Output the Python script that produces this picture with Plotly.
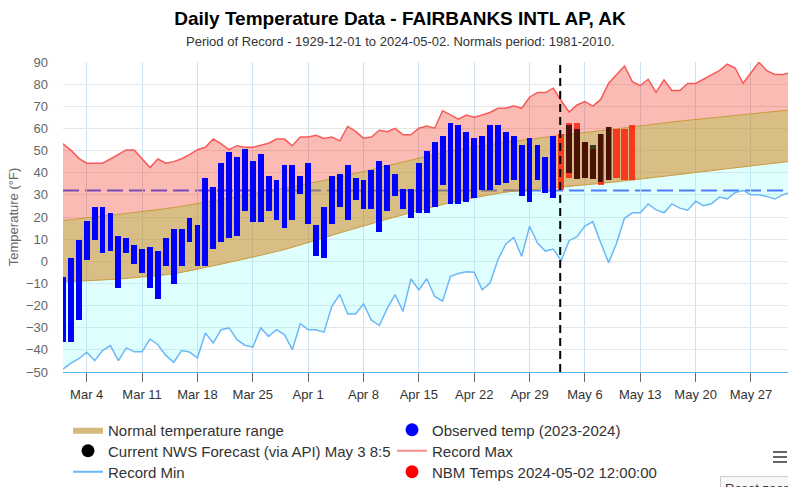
import plotly.graph_objects as go
import pandas as pd

# ---------------- data ----------------
obs_dates = pd.date_range("2024-03-01", "2024-05-02", freq="D")
obs_high = [-7.2, 1.5, 9.8, 18.4, 24.4, 24.4, 21.7, 11.4, 10.4, 7.4, 5.4, 6.4, 4.7, 10.4, 14.6, 14.7,
            19.4, 16.6, 37.7, 33.6, 44.5, 49.5, 47.3, 50.6, 45.4, 48.6, 38.5, 36.7, 43.6, 43.6, 38.5,
            44.5, 16.6, 24.4, 38.6, 39.5, 43.6, 37.8, 36.7, 41.4, 45.5, 43.6, 39.5, 32.6, 32.6, 44.5,
            49.7, 53.7, 56.6, 62.5, 61.6, 58.4, 55.6, 56.6, 61.6, 61.6, 58.4, 56.6, 52.4, 55.6, 52.4,
            47.3, 56.6]
obs_low = [-36.6, -36.6, -26.5, 0.6, 9.8, 3.9, 4.8, -12.2, 3.9, -1.2, -5.2, -12.2, -17.2, -2.1, -10.3,
           -2.1, 8.9, -2.1, -2.1, 5.7, 8.9, 10.7, 11.6, 22.7, 17.6, 17.6, 22.7, 18.5, 14.9, 18.5, 30.6,
           16.7, 2.5, 1.5, 16.7, 24.5, 18.5, 27.8, 23.6, 23.6, 13.4, 22.7, 29.6, 23.6, 19.5, 21.7, 21.7,
           24.6, 34.6, 26.0, 26.0, 27.0, 28.7, 32.0, 32.0, 34.6, 35.5, 36.8, 29.6, 26.9, 36.8, 30.7, 28.7]

rec_dates = pd.date_range("2024-03-01", "2024-06-01", freq="D")
rec_max = [53.1, 50.2, 46.5, 44.3, 44.3, 44.3, 46.2, 48.2, 50.3, 50.3, 46.5, 42.3, 46.2, 44.3, 45.0,
           46.3, 48.2, 50.4, 51.5, 55.2, 53.0, 50.4, 52.2, 51.5, 51.5, 52.4, 53.3, 55.2, 55.2, 52.2,
           56.1, 56.1, 56.9, 55.5, 56.1, 54.4, 60.9, 58.7, 55.6, 56.1, 59.2, 58.5, 60.0, 57.1, 57.1,
           60.1, 61.1, 60.1, 68.0, 66.1, 64.2, 66.0, 65.1, 66.1, 67.2, 69.1, 69.1, 70.2, 69.1, 74.1,
           76.2, 76.2, 78.2, 72.5, 67.4, 70.6, 72.1, 70.1, 73.1, 80.4, 84.4, 88.2, 81.1, 79.3, 82.2,
           76.3, 81.9, 77.1, 77.1, 80.3, 80.3, 82.2, 84.1, 86.1, 89.0, 87.3, 80.4, 85.3, 89.9, 86.1,
           84.4, 84.4, 85.1]
rec_min = [-48.7, -46.0, -44.0, -41.1, -44.9, -40.3, -38.1, -44.9, -39.1, -40.9, -40.9, -35.1, -37.7,
           -42.5, -45.6, -40.3, -41.0, -43.7, -32.4, -36.9, -30.9, -30.1, -35.4, -37.9, -38.8, -30.1,
           -33.9, -30.9, -33.1, -39.9, -28.2, -30.9, -30.9, -32.0, -20.3, -15.0, -23.8, -23.8, -19.3,
           -26.6, -29.0, -21.3, -15.1, -22.6, -8.0, -12.9, -7.9, -15.9, -18.0, -6.8, -5.5, -4.7, -4.9,
           -12.9, -9.8, 0.7, 7.8, 10.8, 2.2, 15.8, 8.2, 4.6, 5.5, 0.3, 9.3, 11.1, 15.9, 17.9, 8.4,
           -0.6, 8.1, 19.4, 21.9, 21.9, 25.9, 23.2, 21.9, 25.9, 24.0, 23.1, 27.1, 25.1, 26.0, 29.0,
           28.2, 31.1, 32.0, 30.0, 30.0, 29.3, 28.1, 30.0, 31.0]

norm_dates = ["2024-03-01", "2024-03-08", "2024-03-15", "2024-03-22", "2024-03-29", "2024-04-05",
              "2024-04-12", "2024-04-19", "2024-04-26", "2024-05-03", "2024-05-10", "2024-05-17",
              "2024-05-24", "2024-05-31", "2024-06-01"]
norm_high = [18.4, 21.2, 24.3, 28.6, 33.0, 38.0, 44.0, 49.8, 53.7, 56.9, 59.8, 62.9, 65.5, 68.0, 68.3]
norm_low = [-9.3, -8.0, -5.6, -0.5, 5.3, 12.8, 20.0, 26.5, 31.2, 33.5, 35.9, 38.8, 41.8, 44.7, 45.1]

nbm_dates = pd.date_range("2024-05-03", "2024-05-12", freq="D")
nbm_high = [57.5, 62.5, 62.5, 53.9, 50.7, 57.5, 60.7, 59.7, 59.7, 61.6]
nbm_low = [32.2, 37.8, 37.0, 37.8, 37.0, 34.6, 36.7, 37.8, 36.9, 36.9]

nws_dates = pd.date_range("2024-05-04", "2024-05-09", freq="D")
nws_high = [61.6, 59.8, 53.9, 52.5, 57.5, 60.7]
nws_low = [39.7, 37.0, 37.8, 37.0, 35.7, 36.7]

freeze_line = 32
now_time = "2024-05-02 21:00"

y_ticks = list(range(-50, 91, 10))

title_text = "Daily Temperature Data - FAIRBANKS INTL AP, AK"
subtitle_text = "Period of Record - 1929-12-01 to 2024-05-02. Normals period: 1981-2010."

# ---------------- figure ----------------
FONT = "Liberation Sans, Arial, Helvetica, sans-serif"
DAY = 86400000
Y_RANGE = [-50, 90]

fig = go.Figure()

# record min line (base of cyan area)
fig.add_trace(go.Scatter(x=rec_dates, y=rec_min, mode="lines",
                         line=dict(color="#6ab8f7", width=1.5), showlegend=False, hoverinfo="skip"))
# normal low with cyan fill down to record min
fig.add_trace(go.Scatter(x=norm_dates, y=norm_low, mode="lines", fill="tonexty",
                         fillcolor="rgba(128,255,255,0.25)",
                         line=dict(color="#c99a3a", width=1, shape="spline", smoothing=0.6),
                         showlegend=False, hoverinfo="skip"))
# normal high with tan fill
fig.add_trace(go.Scatter(x=norm_dates, y=norm_high, mode="lines", fill="tonexty",
                         fillcolor="rgba(190,145,50,0.6)",
                         line=dict(color="#c99a3a", width=1, shape="spline", smoothing=0.6),
                         showlegend=False, hoverinfo="skip"))
# record max with pink fill
fig.add_trace(go.Scatter(x=rec_dates, y=rec_max, mode="lines", fill="tonexty",
                         fillcolor="rgba(240,60,40,0.35)",
                         line=dict(color="#f85a5a", width=1.5), showlegend=False, hoverinfo="skip"))

# observed bars (on overlay axis so they sit above the areas)
fig.add_trace(go.Bar(x=obs_dates, base=obs_low, yaxis="y2",
                     y=[h - l for h, l in zip(obs_high, obs_low)],
                     width=0.74 * DAY, marker=dict(color="#0000ff", line=dict(width=0)),
                     showlegend=False))
# NBM bars
fig.add_trace(go.Bar(x=nbm_dates, base=nbm_low, yaxis="y2",
                     y=[h - l for h, l in zip(nbm_high, nbm_low)],
                     width=0.78 * DAY, marker=dict(color="rgba(255,20,0,0.78)", line=dict(width=0)),
                     showlegend=False))
# NWS bars
fig.add_trace(go.Bar(x=nws_dates, base=nws_low, yaxis="y2",
                     y=[h - l for h, l in zip(nws_high, nws_low)],
                     width=0.68 * DAY, marker=dict(color="rgba(0,0,0,0.7)", line=dict(width=0)),
                     showlegend=False))

# legend entries (one small legend per cell of the 2-column legend grid)
fig.add_trace(go.Scatter(x=[None], y=[None], mode="lines", fill="toself", name="Normal temperature range",
                         fillcolor="rgb(213,186,125)", line=dict(width=0, color="rgb(213,186,125)"),
                         legend="legend"))
fig.add_trace(go.Scatter(x=[None], y=[None], mode="markers", name="Current NWS Forecast (via API) May 3 8:5",
                         marker=dict(color="#000000", size=13, symbol="circle"), legend="legend2"))
fig.add_trace(go.Scatter(x=[None], y=[None], mode="lines", name="Record Min",
                         line=dict(color="#6ab8f7", width=2), legend="legend3"))
fig.add_trace(go.Scatter(x=[None], y=[None], mode="markers", name="Observed temp (2023-2024)",
                         marker=dict(color="#0000ff", size=13, symbol="circle"), legend="legend4"))
fig.add_trace(go.Scatter(x=[None], y=[None], mode="lines", name="Record Max",
                         line=dict(color="#f88a8a", width=2), legend="legend5"))
fig.add_trace(go.Scatter(x=[None], y=[None], mode="markers", name="NBM Temps 2024-05-02 12:00:00",
                         marker=dict(color="#ff0000", size=13, symbol="circle"), legend="legend6"))

# 32F dashed line (under the areas)
fig.add_hline(y=freeze_line, line=dict(color="rgb(60,80,255)", width=2, dash="16px,6px"), layer="below")
# current time dashed line
fig.add_vline(x=now_time, line=dict(color="#000000", width=2, dash="8px,5px"), layer="above")

# hamburger menu icon (chart UI)
for yy in (452, 457, 462):
    fig.add_shape(type="line", xref="paper", yref="paper",
                  x0=(773 - 63) / 725, x1=(787 - 63) / 725, y0=(372 - yy) / 310, y1=(372 - yy) / 310,
                  line=dict(color="#666666", width=2))

x_start = pd.Timestamp("2024-03-01")
x_end = x_start + pd.Timedelta(days=91.68)


def legend_cell(px_x, px_y):
    return dict(x=(px_x - 63) / 725, y=(372 - px_y) / 310, xanchor="left", yanchor="middle",
                orientation="v", font=dict(size=15, color="#333333"), bgcolor="rgba(0,0,0,0)")


fig.update_layout(
    width=788, height=487,
    margin=dict(l=63, r=0, t=62, b=115, autoexpand=False),
    paper_bgcolor="white", plot_bgcolor="white",
    font=dict(family=FONT, color="#333333"),
    barmode="overlay", bargap=0,
    title=dict(text="<b>" + title_text + "</b>", x=400 / 788, xanchor="center", xref="container",
               y=1 - 18.5 / 487, yanchor="middle", yref="container",
               font=dict(size=19, color="#000000", family=FONT)),
    annotations=[
        dict(text=subtitle_text, xref="paper", yref="paper", x=(400 - 63) / 725, y=(372 - 41) / 310,
             xanchor="center", yanchor="middle", showarrow=False,
             font=dict(size=13, color="#333333", family=FONT)),
        dict(text="Reset zoom", xref="paper", yref="paper", x=(720 - 63) / 725, y=(372 - 476) / 310,
             xanchor="left", yanchor="top", showarrow=False, bgcolor="#f7f7f7",
             bordercolor="#cccccc", borderwidth=1, borderpad=4,
             font=dict(size=13, color="#333333", family=FONT)),
    ],
    xaxis=dict(type="date", range=[x_start, x_end], tick0="2024-03-04", dtick=7 * DAY,
               tickformat="%b %-d", ticks="outside", ticklen=9, tickcolor="#666666",
               tickfont=dict(size=13, color="#333333"), ticklabelstandoff=1,
               showgrid=True, gridcolor="#cfe0ee",
               gridwidth=1, showline=True, linecolor="#55b2ea", linewidth=1, zeroline=False,
               fixedrange=True),
    yaxis=dict(range=Y_RANGE, tickvals=y_ticks, ticks="", showgrid=True, gridcolor="#e6e6e6",
               gridwidth=1, zeroline=False, showline=False,
               tickfont=dict(size=13, color="#666666"), ticklabelstandoff=14,
               title=dict(text="Temperature (°F)", font=dict(size=13, color="#666666"), standoff=4)),
    yaxis2=dict(range=Y_RANGE, overlaying="y", visible=False, showgrid=False, zeroline=False),
    legend=legend_cell(68, 430),
    legend2=legend_cell(68, 451),
    legend3=legend_cell(68, 472),
    legend4=legend_cell(392, 430),
    legend5=legend_cell(392, 451),
    legend6=legend_cell(392, 472),
)

fig.write_html("out.html", post_script="document.body.style.margin='0px';",
               config={"displayModeBar": False})
